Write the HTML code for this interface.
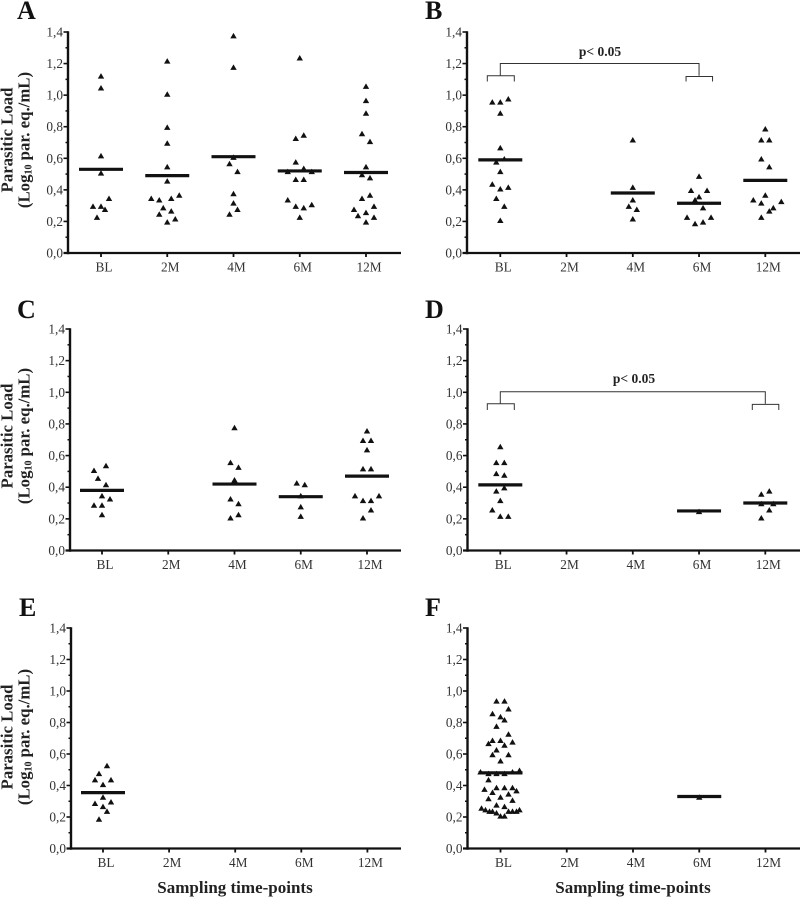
<!DOCTYPE html>
<html lang="en">
<head>
<meta charset="utf-8">
<title>Parasitic load by sampling time-point</title>
<style>
html,body{margin:0;padding:0;background:#fff;width:800px;height:897px;overflow:hidden}
svg{display:block}
text{font-family:"Liberation Serif",serif}
.letter{font-size:26px;font-weight:bold;fill:#111}
.ytitle{font-size:16.8px;font-weight:bold;fill:#222;text-anchor:middle}
.xtitle{font-size:17px;font-weight:bold;fill:#222;text-anchor:middle}
.ptext{font-size:13.5px;font-weight:bold;fill:#222;text-anchor:middle}
.sub{font-size:10px}
</style>
</head>
<body>
<svg id="figure" xmlns="http://www.w3.org/2000/svg" width="800" height="897" viewBox="0 0 800 897">
  <rect width="800" height="897" fill="#fff"/>
  <text class="letter" x="17" y="19">A</text>
  <text class="letter" x="425" y="19">B</text>
  <text class="letter" x="17" y="318">C</text>
  <text class="letter" x="425" y="318">D</text>
  <text class="letter" x="19" y="616">E</text>
  <text class="letter" x="425" y="616">F</text>

  <g>
    <text class="ytitle" transform="translate(12.5,140) rotate(-90)">Parasitic Load</text>
    <text class="ytitle" transform="translate(29.5,140) rotate(-90)">(Log<tspan class="sub" dy="2">10</tspan><tspan dy="-2"> par. eq./mL)</tspan></text>
  </g>
  <g>
    <text class="ytitle" transform="translate(12.5,436) rotate(-90)">Parasitic Load</text>
    <text class="ytitle" transform="translate(29.5,436) rotate(-90)">(Log<tspan class="sub" dy="2">10</tspan><tspan dy="-2"> par. eq./mL)</tspan></text>
  </g>
  <g>
    <text class="ytitle" transform="translate(12.5,737) rotate(-90)">Parasitic Load</text>
    <text class="ytitle" transform="translate(29.5,737) rotate(-90)">(Log<tspan class="sub" dy="2">10</tspan><tspan dy="-2"> par. eq./mL)</tspan></text>
  </g>

  <text class="xtitle" x="235" y="893">Sampling time-points</text>
  <text class="xtitle" x="633" y="893">Sampling time-points</text>

  <text class="ptext" x="600" y="56">p&lt; 0.05</text>
  <text class="ptext" x="634" y="383">p&lt; 0.05</text>
</svg>

<script>
const categories = ['BL', '2M', '4M', '6M', '12M'];
const yTickLabels = ['0,0', '0,2', '0,4', '0,6', '0,8', '1,0', '1,2', '1,4'];
const yTickValues = [0, 0.2, 0.4, 0.6, 0.8, 1.0, 1.2, 1.4];
const yMinorValues = [0.1, 0.3, 0.5, 0.7, 0.9, 1.1, 1.3];

const panelAValues = [
  [1.12, 1.045, 0.615, 0.505, 0.345, 0.295, 0.295, 0.275, 0.225],
  [1.215, 1.005, 0.795, 0.695, 0.545, 0.455, 0.365, 0.345, 0.335, 0.345, 0.285, 0.265, 0.245, 0.215, 0.195],
  [1.375, 1.175, 0.605, 0.565, 0.515, 0.375, 0.315, 0.275, 0.245],
  [1.235, 0.725, 0.745, 0.575, 0.535, 0.515, 0.515, 0.465, 0.465, 0.335, 0.305, 0.295, 0.285, 0.225],
  [1.055, 0.965, 0.885, 0.755, 0.705, 0.545, 0.495, 0.475, 0.365, 0.345, 0.295, 0.275, 0.255, 0.235, 0.225, 0.195]
];
const panelASwarm = [
  [0, 0, 0, 0, 2, -2, 0, 1, -1],
  [0, 0, 0, 0, 0, 0, 3, -4, -2, 1, -1, 1, -2, 2, 0],
  [0, 0, 0, -1, 1, 0, 0, 1, -1],
  [0, -1, 1, -1, 1, -3, 3, -1, 1, -3, 3, -1, 1, 0],
  [0, 0, 0, -1, 1, 0, -1, 1, 1, -1, 2, -3, 0, -2, 2, 0]
];
const panelAMeans = [0.53, 0.49, 0.61, 0.52, 0.51];

const panelBValues = [
  [0.955, 0.955, 0.975, 0.885, 0.665, 0.595, 0.575, 0.515, 0.435, 0.415, 0.405, 0.345, 0.295, 0.205],
  [],
  [0.715, 0.415, 0.335, 0.295, 0.275, 0.215],
  [0.485, 0.395, 0.395, 0.355, 0.335, 0.325, 0.285, 0.225, 0.225, 0.195, 0.185],
  [0.785, 0.715, 0.715, 0.595, 0.545, 0.365, 0.335, 0.325, 0.315, 0.285, 0.265, 0.225]
];
const panelBSwarm = [
  [-2, 0, 2, 0, 0, 1, -1, 0, -2, 2, 0, -1, 1, 0],
  [],
  [0, 0, 0, -1, 1, 0],
  [0, -2, 2, 0, -1, -1, 1, -3, 3, 1, -1],
  [0, -1, 1, -1, 1, 0, -3, 4, -1, 2, 1, -1]
];
const panelBMeans = [0.59, null, 0.38, 0.315, 0.46];

const panelCValues = [
  [0.535, 0.505, 0.455, 0.415, 0.345, 0.325, 0.285, 0.285, 0.225],
  [],
  [0.775, 0.555, 0.525, 0.445, 0.325, 0.295, 0.225, 0.205],
  [0.425, 0.415, 0.345, 0.275, 0.215],
  [0.755, 0.695, 0.695, 0.635, 0.515, 0.515, 0.345, 0.345, 0.315, 0.315, 0.255, 0.205]
];
const panelCSwarm = [
  [1, -2, -1, 1, 0, 2, -2, 0, 0],
  [],
  [0, -1, 1, 0, -1, 1, 1, -1],
  [-1, 1, 0, 0, 0],
  [0, -1, 1, 0, -1, 1, -3, 3, -1, 1, 1, -1]
];
const panelCMeans = [0.38, null, 0.42, 0.34, 0.47];

const panelDValues = [
  [0.655, 0.555, 0.555, 0.485, 0.475, 0.395, 0.375, 0.315, 0.255, 0.215, 0.215],
  [],
  [],
  [0.245],
  [0.375, 0.355, 0.295, 0.295, 0.255, 0.205]
];
const panelDSwarm = [
  [0, -1, 1, -1, 1, 1, -1, 0, -2, 0, 2],
  [],
  [],
  [0],
  [1, -1, -1, 2, 1, -1]
];
const panelDMeans = [0.415, null, null, 0.25, 0.30];

const panelEValues = [
  [0.525, 0.475, 0.435, 0.435, 0.405, 0.325, 0.295, 0.285, 0.265, 0.235, 0.185],
  [],
  [],
  [],
  []
];
const panelESwarm = [
  [1, -1, -2, 2, 0, 0, 2, -2, 0, 1, -1],
  [],
  [],
  [],
  []
];
const panelEMeans = [0.355, null, null, null, null];

const panelFValues = [
  [0.935, 0.935, 0.885, 0.855, 0.835, 0.815, 0.775, 0.725, 0.685, 0.685, 0.665, 0.675, 0.655, 0.625, 0.595, 0.595, 0.555, 0.495, 0.485, 0.475, 0.475, 0.475, 0.485, 0.435, 0.375, 0.385, 0.385, 0.385, 0.365, 0.355, 0.345, 0.325, 0.315, 0.305, 0.275, 0.265, 0.255, 0.245, 0.235, 0.235, 0.225, 0.205, 0.205, 0.235, 0.235, 0.235, 0.245],
  [],
  [],
  [0.325],
  []
];
const panelFSwarm = [
  [-1, 1, 2, -2, 0, 1, -1, 2, -2, 0, -3, 3, 1, -1, -2, 2, 0, 4.75, -5, -3, -1, 1, 3, -3, -4, -1, 1, 3, 4, -2, 2, 0, -3, 3, -1, 1, -4.75, -3.75, -2.75, -2, -1, 0, 1, 2, 3, 4, 4.75],
  [],
  [],
  [0],
  []
];
const panelFMeans = [0.48, null, null, 0.33, null];

const SVG_NS = 'http://www.w3.org/2000/svg';
const figure = document.getElementById('figure');
const Y_MAX = 1.4;

function make(tag, parent, attrs) {
  const el = document.createElementNS(SVG_NS, tag);
  for (const key in attrs) el.setAttribute(key, attrs[key]);
  parent.appendChild(el);
  return el;
}

function drawPanel(id, geom, values, swarm, means) {
  const yScale = function (v) { return geom.base - (v / Y_MAX) * (geom.base - geom.top); };
  const xScale = function (i) { return geom.first + i * geom.step; };

  const group = make('g', figure, {});
  
  

  yTickValues.forEach(function (v, i) {
    const tick = make('line', group, { x1: geom.axis - 4.5, x2: geom.axis, y1: yScale(v), y2: yScale(v), stroke: '#111', 'stroke-width': 1.6 });
    
    
    const label = make('text', group, { x: geom.axis - 5, y: yScale(v) + 4.5, 'text-anchor': 'end', 'font-size': 13.3, fill: '#333' });
    
    
    label.textContent = yTickLabels[i];
  });

  yMinorValues.forEach(function (v) {
    const tick = make('line', group, { x1: geom.axis - 2.5, x2: geom.axis, y1: yScale(v), y2: yScale(v), stroke: '#111', 'stroke-width': 1.5 });
    
    
  });

  categories.forEach(function (c, i) {
    const tick = make('line', group, { x1: xScale(i), x2: xScale(i), y1: geom.base, y2: geom.base + 4, stroke: '#111', 'stroke-width': 1.8 });
    
    
    const label = make('text', group, { x: xScale(i) + 3, y: geom.base + 18.5, 'text-anchor': 'middle', 'font-size': 13.3, fill: '#333' });
    
    
    label.textContent = c;
  });

  values.forEach(function (series, i) {
    series.forEach(function (v, j) {
      const cx = xScale(i) + swarm[i][j] * 4;
      const cy = yScale(v);
      const points = (cx) + ',' + (cy - 3.1) + ' ' + (cx - 3.2) + ',' + (cy + 2.4) + ' ' + (cx + 3.2) + ',' + (cy + 2.4);
      const mark = make('polygon', group, { points: points, fill: '#111' });
      
      
    });
  });

  means.forEach(function (m, i) {
    if (m === null) return;
    const bar = make('line', group, { x1: xScale(i) - 22, x2: xScale(i) + 22, y1: yScale(m), y2: yScale(m), stroke: '#111', 'stroke-width': 3.2 });
    
    
  });

  const yAxis = make('line', group, { x1: geom.axis, x2: geom.axis, y1: geom.top - 0.8, y2: geom.base + 1.2, stroke: '#111', 'stroke-width': 2.4 });
  
  
  const xAxis = make('line', group, { x1: geom.axis - 4.5, x2: geom.end, y1: geom.base, y2: geom.base, stroke: '#111', 'stroke-width': 2.2 });
  
  

  return { xScale: xScale, group: group };
}

function drawBracket(panel, from, to, mainY, subY, legY) {
  const a = panel.xScale(from);
  const b = panel.xScale(to);
  const d = 'M' + a + ' ' + subY + 'V' + mainY + 'H' + b + 'V' + subY +
    'M' + (a - 13) + ' ' + legY + 'V' + subY + 'H' + (a + 14) + 'V' + legY +
    'M' + (b - 13) + ' ' + legY + 'V' + (subY + 0.7) + 'H' + (b + 13.5) + 'V' + legY;
  const path = make('path', panel.group, { d: d, fill: 'none', stroke: '#333', 'stroke-width': 1 });
  
  
}

const panelA = drawPanel('a', { axis: 68, top: 32, base: 253, first: 101, step: 66.25, end: 401 }, panelAValues, panelASwarm, panelAMeans);
const panelB = drawPanel('b', { axis: 467, top: 32, base: 253, first: 500.3, step: 66.25, end: 800 }, panelBValues, panelBSwarm, panelBMeans);
const panelC = drawPanel('c', { axis: 70, top: 329, base: 550.5, first: 102, step: 66.25, end: 401 }, panelCValues, panelCSwarm, panelCMeans);
const panelD = drawPanel('d', { axis: 467.5, top: 329, base: 550.5, first: 500.3, step: 66.25, end: 800 }, panelDValues, panelDSwarm, panelDMeans);
const panelE = drawPanel('e', { axis: 71, top: 628, base: 848.5, first: 103, step: 66.1, end: 401 }, panelEValues, panelESwarm, panelEMeans);
const panelF = drawPanel('f', { axis: 467.5, top: 628, base: 848.5, first: 500.5, step: 66.25, end: 800 }, panelFValues, panelFSwarm, panelFMeans);

drawBracket(panelB, 0, 3, 63.5, 75.8, 81.5);
drawBracket(panelD, 0, 4, 391.7, 403.7, 410);
</script>
</body>
</html>
